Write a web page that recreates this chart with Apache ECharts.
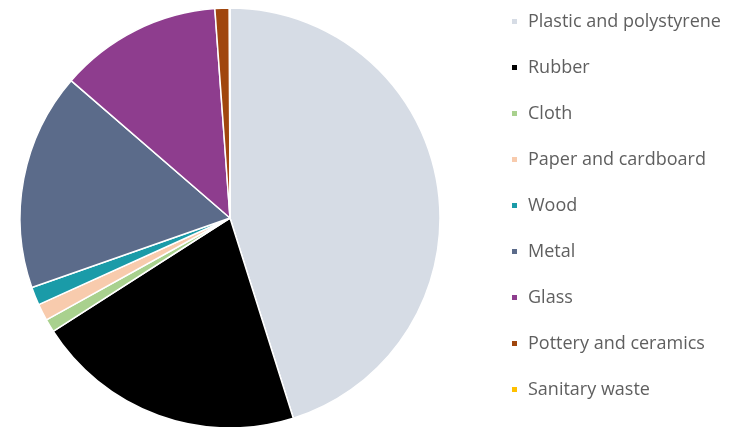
<!DOCTYPE html>
<html>
<head>
<meta charset="utf-8">
<script src="https://cdn.jsdelivr.net/npm/echarts@6/dist/echarts.min.js"></script>
<style>
  html, body { margin: 0; padding: 0; background: #fff; }
  #chart { width: 742px; height: 427px; }
</style>
</head>
<body>
<div id="chart"></div>
<script>
  // waste categories, share in percent
  const categories = ['Plastic and polystyrene', 'Rubber', 'Cloth', 'Paper and cardboard',
    'Wood', 'Metal', 'Glass', 'Pottery and ceramics', 'Sanitary waste'];
  const shares = [45.1, 20.8, 1.0, 1.3, 1.4, 16.7, 12.5, 1.1, 0.05];
  const colors = ['#d6dce5', '#000000', '#a9d18e', '#f8cbad', '#1a9ba8',
    '#5b6b8a', '#8e3d8e', '#a0460e', '#ffc000'];

  let chart = echarts.init(document.getElementById('chart'));
  let option = {
    animation: false,
    color: colors,
    legend: {
      orient: 'vertical',
      left: 510,
      top: 11.5,
      padding: 0,
      icon: 'rect',
      itemWidth: 7,
      itemHeight: 7,
      itemGap: 26,
      textStyle: {
        color: '#5f5f5f',
        fontFamily: 'Open Sans',
        fontSize: 18,
        lineHeight: 20,
        padding: [0, 0, 0, 5]
      },
      data: categories
    },
    series: [
      {
        type: 'pie',
        center: [230, 218],
        radius: 210,
        startAngle: 90,
        clockwise: true,
        label: { show: false },
        labelLine: { show: false },
        itemStyle: { borderColor: '#fff', borderWidth: 1.5 },
        emphasis: { disabled: true },
        data: categories.map((name, i) => ({ name: name, value: shares[i] }))
      }
    ]
  };
  chart.setOption(option);
</script>
</body>
</html>
